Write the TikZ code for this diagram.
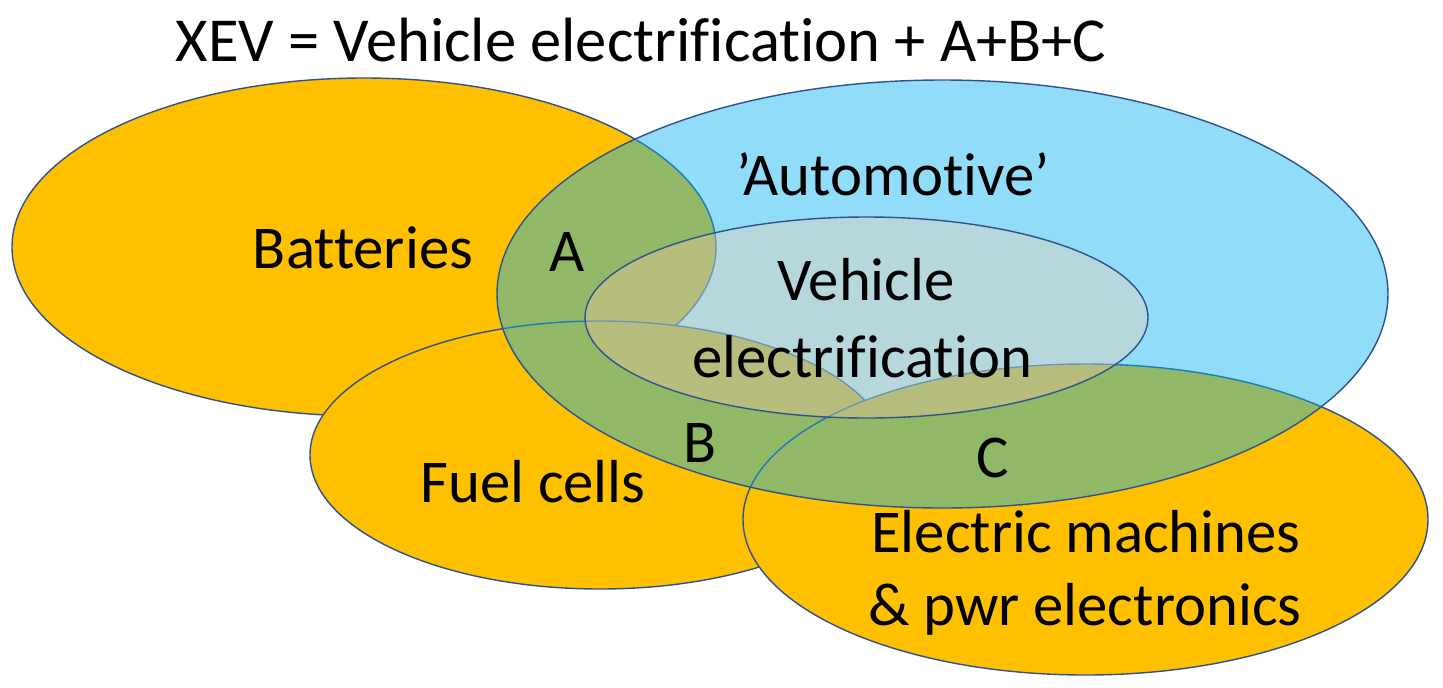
\documentclass[tikz,border=0pt]{standalone}
\usepackage{fontspec}
\setmainfont{Carlito}[Ligatures=NoCommon]

\definecolor{orng}{HTML}{FFC000}
\definecolor{skyb}{RGB}{0,175,238}
\definecolor{peach}{RGB}{255,204,170}
\definecolor{rim}{HTML}{2F528F}

\tikzset{
  set/.style={draw=rim,line width=1pt},
  lbl/.style={anchor=base,inner sep=0pt}
}

\begin{document}
\begin{tikzpicture}[x=0.025cm,y=-0.025cm,font=\fontsize{43.2}{51}\selectfont]

\useasboundingbox (0,0) rectangle (1443,687);

\coordinate (bat) at (364,247);
\coordinate (fuel) at (600,455);
\coordinate (mach) at (1085.5,519.5);
\coordinate (auto) at (942.5,294);
\coordinate (veh) at (866.5,317.5);

% the three component sets
\draw[set,fill=orng] (bat) ellipse (352 and 169);
\draw[set,fill=orng] (fuel) ellipse (290 and 134);
\draw[set,fill=orng] (mach) ellipse (342.5 and 155.5);

% automotive and the inner set
\draw[set,fill=skyb,fill opacity=0.43] (auto) ellipse (445.5 and 214);
\draw[set,fill=peach,fill opacity=0.35] (veh) ellipse (281.5 and 100.5);

\node[lbl,font=\fontsize{44.5}{51}\selectfont] (title) at (641,61) {XEV = Vehicle electrification + A+B+C};
\node[lbl] (batt) at (363,268) {Batteries};
\node[lbl] (autom) at (893,195) {’Automotive’};
\node[lbl] (a) at (567,271) {A};
\node[lbl] (veh1) at (866,300) {Vehicle};
\node[lbl] (veh2) at (862,377) {electrification};
\node[lbl] (fc) at (533,502) {Fuel cells};
\node[lbl] (b) at (700,462) {B};
\node[lbl] (c) at (993,477) {C};
\node[lbl] (em1) at (1086,552) {Electric machines};
\node[lbl] (em2) at (1085,625) {\& pwr electronics};

\end{tikzpicture}
\end{document}
